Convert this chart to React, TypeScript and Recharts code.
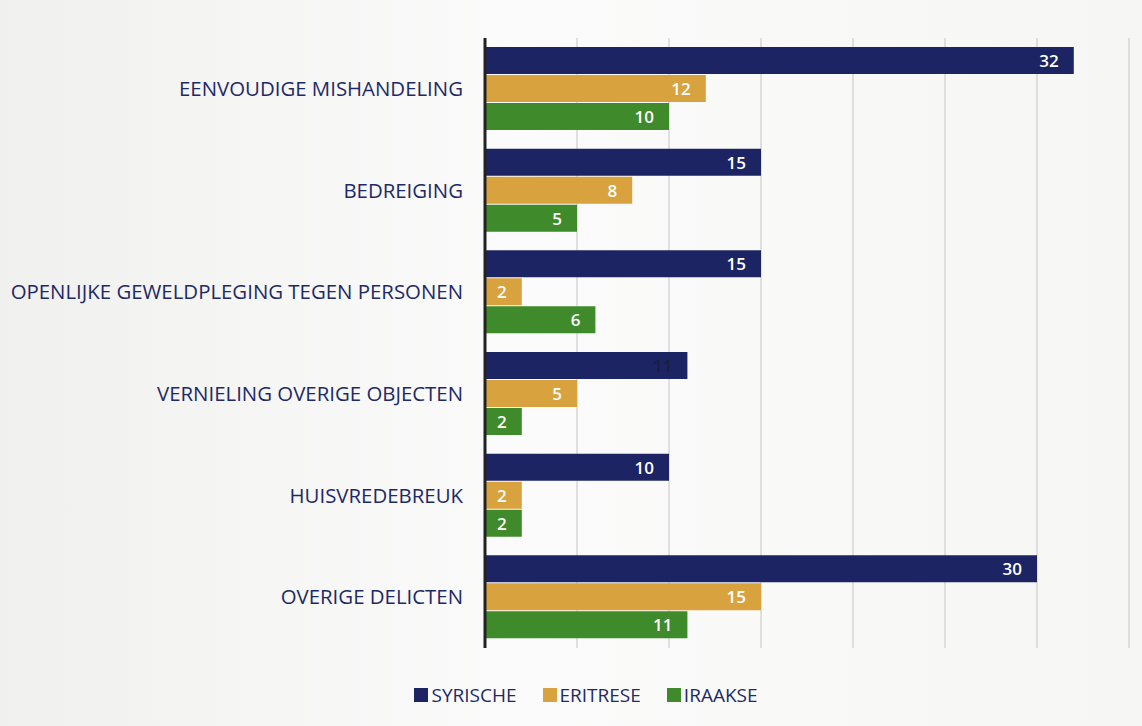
import { BarChart, Bar, XAxis, YAxis, CartesianGrid, LabelList, Legend } from "recharts";

const categories = [
  "EENVOUDIGE MISHANDELING",
  "BEDREIGING",
  "OPENLIJKE GEWELDPLEGING TEGEN PERSONEN",
  "VERNIELING OVERIGE OBJECTEN",
  "HUISVREDEBREUK",
  "OVERIGE DELICTEN",
];
const syrische = [32, 15, 15, 11, 10, 30];
const eritrese = [12, 8, 2, 5, 2, 15];
const iraakse = [10, 5, 6, 2, 2, 11];
const xTicks = [0, 5, 10, 15, 20, 25, 30, 35];

const data = categories.map((name, i) => ({
  name,
  syrische: syrische[i],
  eritrese: eritrese[i],
  iraakse: iraakse[i],
}));

const NAVY = "#1c2464";
const GOLD = "#d8a23e";
const GREEN = "#3f8a2a";
const TEXT = "#1e2a66";
const FONT = "'Open Sans', sans-serif";

// the "11" in the source is printed dark on the navy bar
function barLabel(darkIndex?: number) {
  return (props: any) => {
    const { x, y, width, height, value, index } = props;
    return (
      <text
        x={x + width - 15}
        y={y + height / 2}
        textAnchor="end"
        dominantBaseline="central"
        fill={index === darkIndex ? "#1a1f3a" : "#ffffff"}
        fontSize={17}
        fontWeight={600}
        fontFamily={FONT}
      >
        {value}
      </text>
    );
  };
}

const legendItems = [
  { label: "SYRISCHE", color: NAVY },
  { label: "ERITRESE", color: GOLD },
  { label: "IRAAKSE", color: GREEN },
];

function LegendContent() {
  return (
    <div style={{ display: "flex", justifyContent: "center", gap: 26, fontFamily: FONT, fontSize: 19, lineHeight: "26px", color: TEXT, paddingLeft: 30 }}>
      {legendItems.map((it) => (
        <div key={it.label} style={{ display: "flex", alignItems: "center", gap: 3 }}>
          <span style={{ width: 14, height: 14, background: it.color, display: "inline-block" }} />
          <span>{it.label}</span>
        </div>
      ))}
    </div>
  );
}

export default function App() {
  return (
    <div style={{ position: "absolute", left: 0, top: 0, width: 1142, height: 726, background: "linear-gradient(90deg, #f0f0ee 0%, #fbfbfb 45%, #f6f6f4 100%)" }}>
      <BarChart
        width={1142}
        height={726}
        data={data}
        layout="vertical"
        margin={{ top: 38, right: 13, bottom: 52, left: 0 }}
        barSize={27}
        barGap={1}
      >
        <CartesianGrid horizontal={false} stroke="#c4c4c4" />
        <XAxis type="number" domain={[0, 35]} ticks={xTicks} hide />
        <YAxis
          type="category"
          dataKey="name"
          width={485}
          axisLine={{ stroke: "#222222", strokeWidth: 3 }}
          tickLine={false}
          tickMargin={16}
          tick={{ fill: TEXT, fontSize: 20.4, fontFamily: FONT }}
        />
        <Legend content={<LegendContent />} wrapperStyle={{ position: "absolute", top: 682, left: 0, width: 1142, height: 26 }} />
        <Bar dataKey="syrische" name="SYRISCHE" fill={NAVY} isAnimationActive={false}>
          <LabelList dataKey="syrische" content={barLabel(3)} />
        </Bar>
        <Bar dataKey="eritrese" name="ERITRESE" fill={GOLD} isAnimationActive={false}>
          <LabelList dataKey="eritrese" content={barLabel()} />
        </Bar>
        <Bar dataKey="iraakse" name="IRAAKSE" fill={GREEN} isAnimationActive={false}>
          <LabelList dataKey="iraakse" content={barLabel()} />
        </Bar>
      </BarChart>
    </div>
  );
}
